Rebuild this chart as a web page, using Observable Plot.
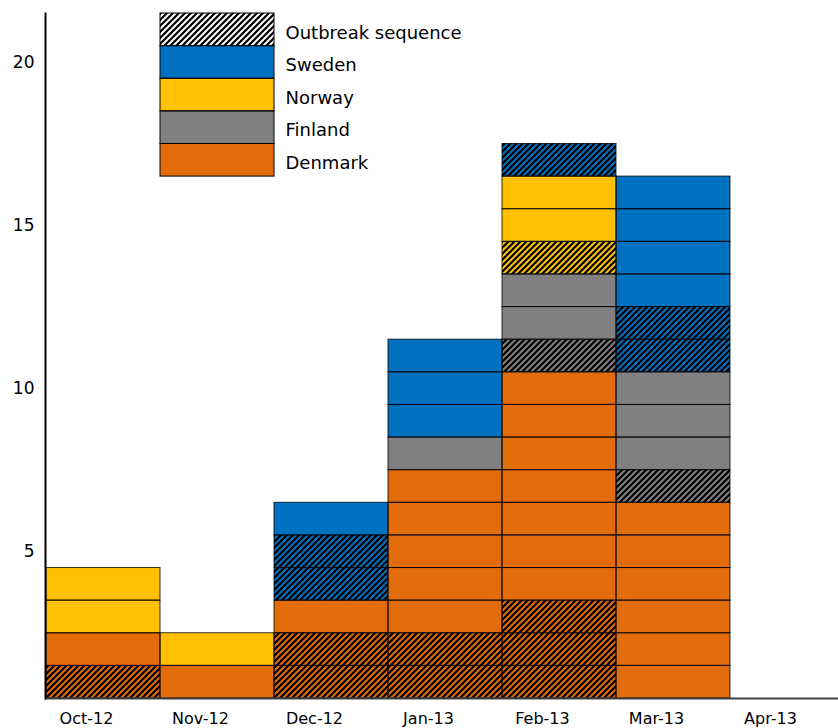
<!DOCTYPE html>
<html>
<head>
<meta charset="utf-8">
<script src="https://cdn.jsdelivr.net/npm/d3@7"></script>
<script src="https://cdn.jsdelivr.net/npm/@observablehq/plot@0.6"></script>
<style>
  html, body { margin: 0; padding: 0; background: #fff; }
  #chart svg { display: block; }
</style>
</head>
<body>
<div id="chart"></div>
<script>
// Months (x categories)
const months = ["Oct-12", "Nov-12", "Dec-12", "Jan-13", "Feb-13", "Mar-13", "Apr-13"];

// Countries in stacking order (bottom to top) and their colours
const countries = ["Denmark", "Finland", "Norway", "Sweden"];
const countryColors = ["#E36C0A", "#808080", "#FFC000", "#0070C0"];

// Cases per month: outbreak-sequence cases and other cases, per country
const denmarkOutbreak = [1, 0, 2, 2, 3, 0, 0];
const denmarkOther    = [1, 1, 1, 5, 7, 6, 0];
const finlandOutbreak = [0, 0, 0, 0, 1, 1, 0];
const finlandOther    = [0, 0, 0, 1, 2, 3, 0];
const norwayOutbreak  = [0, 0, 0, 0, 1, 0, 0];
const norwayOther     = [2, 1, 0, 0, 2, 0, 0];
const swedenOutbreak  = [0, 0, 2, 0, 1, 2, 0];
const swedenOther     = [0, 0, 1, 3, 0, 4, 0];

// Legend entries (top to bottom)
const legendLabels = ["Outbreak sequence", "Sweden", "Norway", "Finland", "Denmark"];
const outbreakLabel = "Outbreak sequence";

// Y ticks
const yTicks = [5, 10, 15, 20];

// ---- build one box per case ----
const series = [
  {country: "Denmark", outbreak: denmarkOutbreak, other: denmarkOther},
  {country: "Finland", outbreak: finlandOutbreak, other: finlandOther},
  {country: "Norway",  outbreak: norwayOutbreak,  other: norwayOther},
  {country: "Sweden",  outbreak: swedenOutbreak,  other: swedenOther}
];
const boxes = [];
months.forEach((month, m) => {
  let level = 0;
  for (const s of series) {
    for (let k = 0; k < s.outbreak[m]; k++) {
      boxes.push({month, country: s.country, outbreak: true, y1: level, y2: level + 1});
      level++;
    }
    for (let k = 0; k < s.other[m]; k++) {
      boxes.push({month, country: s.country, outbreak: false, y1: level, y2: level + 1});
      level++;
    }
  }
});

// Legend drawn as boxes in the chart area (above the second month column)
const yTop = 21;
const legendColumn = months[1];
const legendRows = legendLabels.map((label, i) => ({
  label,
  month: legendColumn,
  y1: yTop - i - 1,
  y2: yTop - i,
  outbreak: label === outbreakLabel
}));

const chart = Plot.plot({
  width: 838,
  height: 728,
  marginTop: 13,
  marginBottom: 30,
  marginLeft: 45,
  marginRight: 0,
  style: {fontFamily: "'DejaVu Sans', sans-serif", fontSize: "16px", color: "#000", background: "#fff"},
  x: {type: "band", domain: months, range: [45, 845], padding: 0},
  y: {domain: [0, yTop]},
  color: {domain: [...countries, outbreakLabel], range: [...countryColors, "#ffffff"]},
  marks: [
    Plot.barY(boxes, {x: "month", y1: "y1", y2: "y2", fill: "country"}),
    Plot.barY(boxes.filter(d => d.outbreak), {x: "month", y1: "y1", y2: "y2", fill: "url(#hatch)"}),
    Plot.barY(boxes, {x: "month", y1: "y1", y2: "y2", fill: "none", stroke: "#000", strokeOpacity: 0.8, strokeWidth: 1}),
    // legend
    Plot.barY(legendRows, {x: "month", y1: "y1", y2: "y2", fill: "label"}),
    Plot.barY(legendRows.filter(d => d.outbreak), {x: "month", y1: "y1", y2: "y2", fill: "url(#hatch)"}),
    Plot.barY(legendRows, {x: "month", y1: "y1", y2: "y2", fill: "none", stroke: "#000", strokeWidth: 1}),
    Plot.text(legendRows, {x: "month", y: d => (d.y1 + d.y2) / 2, text: "label", dx: 68, dy: 3,
      textAnchor: "start", fontSize: 18, fill: "#000"}),
    // axes
    Plot.ruleY([0], {stroke: "#404040", strokeWidth: 2}),
    Plot.frame({anchor: "left", stroke: "#000", strokeWidth: 2}),
    Plot.axisX({tickSize: 0, tickPadding: 14, dx: -17, fontSize: 16, label: null}),
    Plot.axisY({ticks: yTicks, tickSize: 0, tickPadding: 11, dy: 16, fontSize: 17, label: null})
  ]
});

// hatch pattern definition
const svgNS = "http://www.w3.org/2000/svg";
const svgEl = chart.tagName.toLowerCase() === "svg" ? chart : chart.querySelector("svg");
const defs = d3.select(svgEl).insert("defs", ":first-child");
const pat = defs.append("pattern")
  .attr("id", "hatch")
  .attr("patternUnits", "userSpaceOnUse")
  .attr("width", 6)
  .attr("height", 6);
pat.append("path")
  .attr("d", "M0,6 L6,0 M-1.5,1.5 L1.5,-1.5 M4.5,7.5 L7.5,4.5")
  .attr("stroke", "#000")
  .attr("stroke-width", 2.2)
  .attr("fill", "none");

document.getElementById("chart").appendChild(chart);
</script>
</body>
</html>
